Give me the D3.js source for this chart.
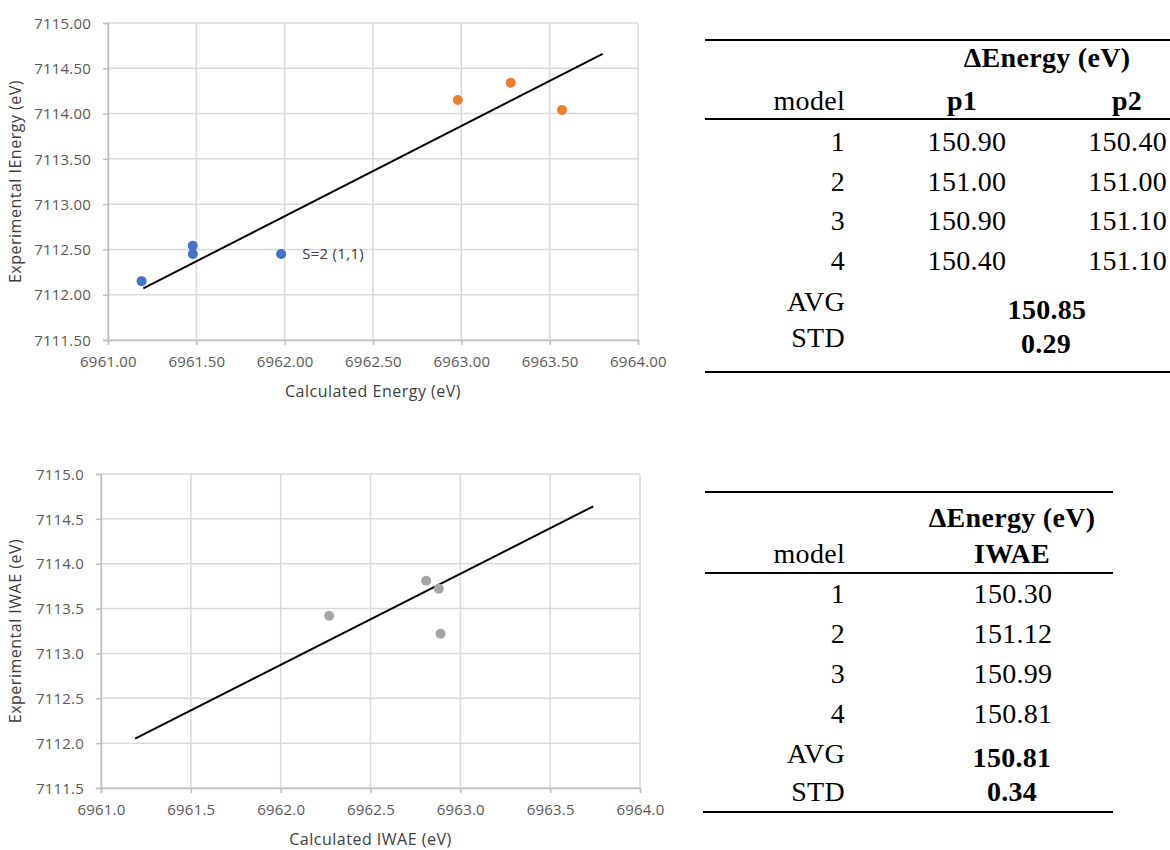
<!DOCTYPE html>
<html>
<head>
<meta charset="utf-8">
<style>
  body { margin: 0; background: #fff; }
  .tick text { font-family: "Open Sans", sans-serif; font-size: 15px; letter-spacing: 0.2px; fill: #595959; }
  .axis-title { font-family: "Open Sans", sans-serif; font-size: 16px; letter-spacing: 0.5px; fill: #404040; }
  .tbl { font-family: "Liberation Serif", "Times New Roman", serif; font-size: 28px; letter-spacing: 0.3px; fill: #000; }
  .tbl.b { font-weight: bold; }
</style>
</head>
<body>
<svg width="1170" height="850"></svg>
<script src="https://d3js.org/d3.v7.min.js"></script>
<script>
// ---- chart data ----
var energyBlueX   = [6961.19, 6961.48, 6961.48, 6961.98];
var energyBlueY   = [7112.15, 7112.54, 7112.45, 7112.45];
var energyOrangeX = [6962.98, 6963.28, 6963.57];
var energyOrangeY = [7114.15, 7114.34, 7114.04];
var energyFitX    = [6961.2, 6963.8];
var energyFitY    = [7112.07, 7114.66];

var iwaeX    = [6962.27, 6962.81, 6962.88, 6962.89];
var iwaeY    = [7113.42, 7113.81, 7113.72, 7113.22];
var iwaeFitX = [6961.19, 6963.74];
var iwaeFitY = [7112.05, 7114.64];

var xTicks = [6961, 6961.5, 6962, 6962.5, 6963, 6963.5, 6964];
var yTicks = [7111.5, 7112, 7112.5, 7113, 7113.5, 7114, 7114.5, 7115];

// ---- table data ----
var models     = ["1", "2", "3", "4"];
var p1Delta    = ["150.90", "151.00", "150.90", "150.40"];
var p2Delta    = ["150.40", "151.00", "151.10", "151.10"];
var energyStat = ["150.85", "0.29"];
var iwaeDelta  = ["150.30", "151.12", "150.99", "150.81"];
var iwaeStat   = ["150.81", "0.34"];
var statNames  = ["AVG", "STD"];

var svg = d3.select("svg");

function zip(xs, ys) { return xs.map(function(x, i) { return [x, ys[i]]; }); }

function drawChart(o) {
  var g = svg.append("g");
  var x = d3.scaleLinear().domain([6961, 6964]).range([o.left, o.right]);
  var y = d3.scaleLinear().domain([7111.5, 7115]).range([o.bottom, o.top]);

  // gridlines
  g.selectAll(".vg").data(xTicks).enter().append("line")
    .attr("x1", d => x(d)).attr("x2", d => x(d))
    .attr("y1", o.top).attr("y2", o.bottom)
    .attr("stroke", "#d9d9d9").attr("stroke-width", 1.5);
  g.selectAll(".hg").data(yTicks).enter().append("line")
    .attr("x1", o.left).attr("x2", o.right)
    .attr("y1", d => y(d)).attr("y2", d => y(d))
    .attr("stroke", "#d9d9d9").attr("stroke-width", 1.5);

  var xAxis = d3.axisBottom(x).tickValues(xTicks).tickSize(5).tickPadding(11)
    .tickFormat(d3.format(o.fmt));
  var yAxis = d3.axisLeft(y).tickValues(yTicks).tickSize(5).tickPadding(12)
    .tickFormat(d3.format(o.fmt));

  var ax = g.append("g").attr("transform", "translate(0," + o.bottom + ")").call(xAxis);
  var ay = g.append("g").attr("transform", "translate(" + o.left + ",0)").call(yAxis);
  [ax, ay].forEach(function(a) {
    a.select(".domain").attr("stroke", "#bfbfbf").attr("stroke-width", 1.5);
    a.selectAll(".tick line").attr("stroke", "#bfbfbf").attr("stroke-width", 1.5);
  });
  ay.selectAll(".tick text").attr("dy", "0.35em");

  // fit line
  g.append("path")
    .datum(zip(o.fitX, o.fitY))
    .attr("fill", "none").attr("stroke", "#000").attr("stroke-width", 2)
    .attr("d", d3.line().x(d => x(d[0])).y(d => y(d[1])));

  // points
  o.series.forEach(function(s) {
    g.selectAll(null).data(zip(s.x, s.y)).enter().append("circle")
      .attr("cx", d => x(d[0])).attr("cy", d => y(d[1]))
      .attr("r", 5).attr("fill", s.color);
  });

  if (o.note) {
    g.append("text").attr("class", "axis-title")
      .attr("x", x(o.note.x) + 21).attr("y", y(o.note.y)).attr("dy", "0.35em")
      .style("font-size", "15px").style("letter-spacing", "0.3px").text(o.note.text);
  }

  g.append("text").attr("class", "axis-title")
    .attr("x", (o.left + o.right) / 2).attr("y", o.bottom + 57)
    .attr("text-anchor", "middle").text(o.xTitle);
  g.append("text").attr("class", "axis-title")
    .attr("transform", "translate(21," + (o.top + o.bottom) / 2 + ") rotate(-90)")
    .attr("text-anchor", "middle").text(o.yTitle);
}

drawChart({
  left: 108, right: 638, top: 23, bottom: 340, fmt: ".2f",
  fitX: energyFitX, fitY: energyFitY,
  series: [
    { x: energyBlueX, y: energyBlueY, color: "#4472c4" },
    { x: energyOrangeX, y: energyOrangeY, color: "#ed7d31" }
  ],
  note: { x: energyBlueX[3], y: energyBlueY[3], text: "S=2 (1,1)" },
  xTitle: "Calculated Energy (eV)", yTitle: "Experimental IEnergy (eV)"
});

drawChart({
  left: 101, right: 640, top: 474, bottom: 788, fmt: ".1f",
  fitX: iwaeFitX, fitY: iwaeFitY,
  series: [{ x: iwaeX, y: iwaeY, color: "#a5a5a5" }],
  xTitle: "Calculated IWAE (eV)", yTitle: "Experimental IWAE (eV)"
});

// ---- tables ----
function rule(x1, x2, yy) {
  svg.append("line").attr("x1", x1).attr("x2", x2).attr("y1", yy).attr("y2", yy)
    .attr("stroke", "#000").attr("stroke-width", 2.2);
}
function txt(xx, yy, s, anchor, bold) {
  svg.append("text").attr("class", "tbl" + (bold ? " b" : ""))
    .attr("x", xx).attr("y", yy).attr("text-anchor", anchor).text(s);
}

// top table
var rowY1 = d3.scalePoint().domain(models).range([151, 270]);
rule(705, 1170, 40);
txt(1047, 67, "\u0394Energy (eV)", "middle", true);
txt(845, 110, "model", "end");
txt(962, 110, "p1", "middle", true);
txt(1127, 110, "p2", "middle", true);
rule(705, 1170, 119);
models.forEach(function(m, i) {
  txt(845, rowY1(m), m, "end");
  txt(967, rowY1(m), p1Delta[i], "middle");
  txt(1167, rowY1(m), p2Delta[i], "end");
});
txt(845, 311, statNames[0], "end");
txt(1047, 319, energyStat[0], "middle", true);
txt(845, 347, statNames[1], "end");
txt(1046, 353, energyStat[1], "middle", true);
rule(705, 1170, 372);

// bottom table
var rowY2 = d3.scalePoint().domain(models).range([603, 723]);
rule(705, 1113, 492);
txt(1012, 527, "\u0394Energy (eV)", "middle", true);
txt(845, 563, "model", "end");
txt(1012, 563, "IWAE", "middle", true);
rule(705, 1113, 573);
models.forEach(function(m, i) {
  txt(845, rowY2(m), m, "end");
  txt(1013, rowY2(m), iwaeDelta[i], "middle");
});
txt(845, 763, statNames[0], "end");
txt(1012, 767, iwaeStat[0], "middle", true);
txt(845, 801, statNames[1], "end");
txt(1012, 801, iwaeStat[1], "middle", true);
rule(703, 1113, 812);
</script>
</body>
</html>
